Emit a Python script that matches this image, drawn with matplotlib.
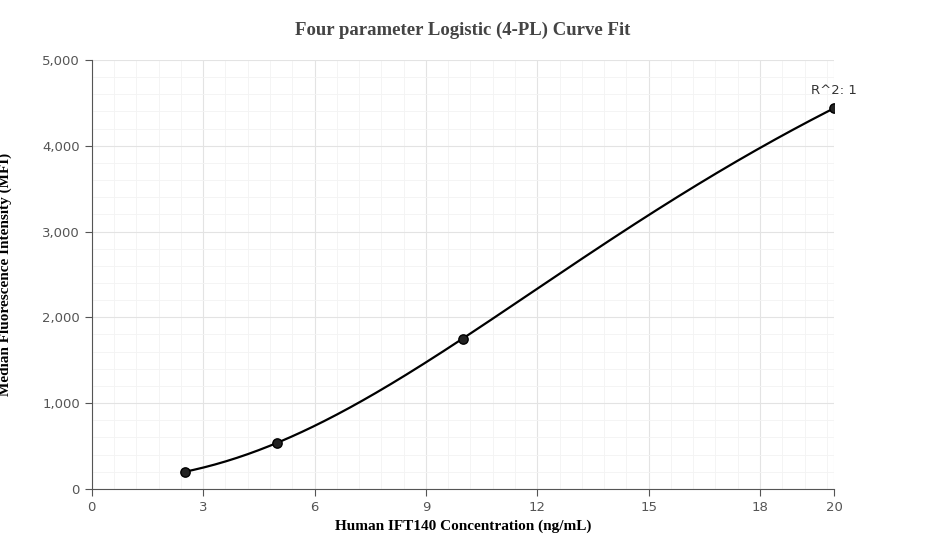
import matplotlib.pyplot as plt
import numpy as np
from matplotlib.ticker import FuncFormatter, MultipleLocator, FixedLocator

conc = [2.5, 5, 10, 20]
mfi = [200, 540, 1750, 4440]
r2_label = "R^2: 1"
x_ticks = [0, 3, 6, 9, 12, 15, 18, 20]

# simple 4PL fit: grid over b, c; solve a, d linearly
x = np.array(conc)
y = np.array(mfi)
best = None
for b in np.linspace(0.5, 4, 71):
    for c in np.geomspace(2, 500, 200):
        g = 1.0 / (1 + (x / c) ** b)
        A = np.vstack([g, 1 - g]).T
        coef, *_ = np.linalg.lstsq(A, y, rcond=None)
        err = np.sum((A @ coef - y) ** 2)
        if best is None or err < best[0]:
            best = (err, b, c, coef)
_, b, c, (a, d) = best
xs = np.linspace(2.5, 20, 300)
ys = d + (a - d) / (1 + (xs / c) ** b)

fig = plt.figure(figsize=(9.27, 5.6), dpi=100)
ax = fig.add_axes([0.099, 0.127, 0.801, 0.766])
ax.plot(xs, ys, color="black", lw=1.6, zorder=3)
ax.scatter(conc, mfi, s=45, color="#222222", edgecolor="black", zorder=4)
ax.annotate(r2_label, (conc[-1], mfi[-1]), xytext=(0, 10), textcoords="offset points",
            ha="center", fontsize=9.5, color="#333333")

ax.set_xlim(0, 20)
ax.set_ylim(0, 5000)
ax.xaxis.set_major_locator(FixedLocator(x_ticks))
ax.xaxis.set_minor_locator(MultipleLocator(0.6))
ax.yaxis.set_major_locator(MultipleLocator(1000))
ax.yaxis.set_minor_locator(MultipleLocator(200))
ax.yaxis.set_major_formatter(FuncFormatter(lambda v, p: f"{int(v):,}"))
ax.grid(which="major", color="#e3e3e3", lw=0.8)
ax.grid(which="minor", color="#f3f3f3", lw=0.6)
ax.set_axisbelow(True)
for s in ["top", "right"]:
    ax.spines[s].set_visible(False)
for s in ["left", "bottom"]:
    ax.spines[s].set_color("#555555")
ax.tick_params(which="major", colors="#555555", labelsize=9.5, length=5)
ax.tick_params(which="minor", length=0)

ax.set_title("Four parameter Logistic (4-PL) Curve Fit", family="Liberation Serif",
             fontweight="bold", fontsize=13.5, color="#444444", pad=18)
ax.set_xlabel("Human IFT140 Concentration (ng/mL)", family="Liberation Serif",
              fontweight="bold", fontsize=11)
ax.set_ylabel("Median Fluorescence Intensity (MFI)", family="Liberation Serif",
              fontweight="bold", fontsize=11, labelpad=22)

fig.savefig("out.png", dpi=100)
